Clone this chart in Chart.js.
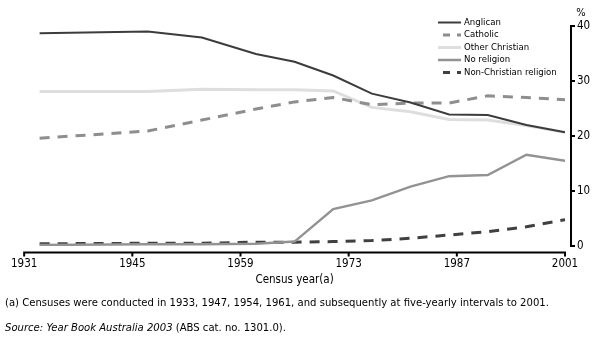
<!DOCTYPE html>
<html lang="en">
<head>
  <meta charset="UTF-8" />
  <title>Religious affiliation – Census years</title>
  <script src="https://cdn.jsdelivr.net/npm/chart.js"></script>
  <style>
    html, body { margin: 0; padding: 0; background: #fff; }
    .wrap { position: relative; width: 612px; height: 352px; overflow: hidden; }
    #chart { position: absolute; left: 0; top: 0; }
    .note {
      position: absolute;
      left: 5px;
      font-family: "DejaVu Sans Condensed", "DejaVu Sans", sans-serif;
      font-size: 11.2px;
      color: #000;
      white-space: nowrap;
    }
  </style>
</head>
<body>
  <div class="wrap">
    <canvas id="chart" width="612" height="352"></canvas>
    <div class="note" style="top:296px">(a) Censuses were conducted in 1933, 1947, 1954, 1961, and subsequently at five-yearly intervals to 2001.</div>
    <div class="note" style="top:321px"><i>Source: Year Book Australia 2003</i> (ABS cat. no. 1301.0).</div>
  </div>

  <script>
    // census years and % of population by affiliation
    const years = [1933, 1947, 1954, 1961, 1966, 1971, 1976, 1981, 1986, 1991, 1996, 2001];
    const anglican = [38.7, 39.0, 37.9, 34.9, 33.5, 31.0, 27.7, 26.1, 23.9, 23.8, 22.0, 20.7];
    const catholic = [19.6, 20.9, 22.9, 24.9, 26.2, 27.0, 25.7, 26.0, 26.0, 27.3, 27.0, 26.6];
    const otherChristian = [28.1, 28.1, 28.5, 28.4, 28.4, 28.2, 25.2, 24.4, 23.0, 22.9, 21.9, 20.7];
    const noReligion = [0.2, 0.3, 0.3, 0.4, 0.8, 6.7, 8.3, 10.8, 12.7, 12.9, 16.6, 15.5];
    const nonChristian = [0.4, 0.5, 0.5, 0.7, 0.7, 0.8, 1.0, 1.4, 2.0, 2.6, 3.5, 4.8];

    const xTicks = [1931, 1945, 1959, 1973, 1987, 2001];
    const yTicks = [0, 10, 20, 30, 40];

    const tickFont = { family: 'DejaVu Sans Condensed, DejaVu Sans, sans-serif', size: 11.5 };
    const legendFont = '9.5px "Liberation Sans Narrow", "DejaVu Sans Condensed", sans-serif';

    const pts = vals => years.map((yr, i) => ({ x: yr, y: vals[i] }));

    const datasets = [
      { label: 'Anglican', data: pts(anglican), borderColor: '#3c3c3c', borderWidth: 2, borderDash: [] },
      { label: 'Catholic', data: pts(catholic), borderColor: '#8e8e8e', borderWidth: 3, borderDash: [10, 8] },
      { label: 'Other Christian', data: pts(otherChristian), borderColor: '#dedede', borderWidth: 3, borderDash: [] },
      { label: 'No religion', data: pts(noReligion), borderColor: '#939393', borderWidth: 2.5, borderDash: [] },
      { label: 'Non-Christian religion', data: pts(nonChristian), borderColor: '#404040', borderWidth: 3, borderDash: [10, 8] }
    ];
    datasets.forEach(d => { d.pointRadius = 0; d.tension = 0; d.fill = false; });

    // axes lines, ticks, % label and legend drawn on top
    const decor = {
      id: 'decor',
      afterDraw(chart) {
        const { ctx, chartArea, scales: { x, y } } = chart;
        ctx.save();
        ctx.strokeStyle = '#000';
        ctx.lineWidth = 2;
        ctx.setLineDash([]);

        const ay = y.getPixelForValue(0) + 6.5;
        ctx.beginPath();
        ctx.moveTo(x.getPixelForValue(1931) - 1, ay);
        ctx.lineTo(x.getPixelForValue(2001) + 1, ay);
        xTicks.forEach(v => {
          const px = x.getPixelForValue(v);
          ctx.moveTo(px, ay);
          ctx.lineTo(px, ay + 4);
        });
        ctx.stroke();

        const ax = chartArea.right + 6;
        ctx.beginPath();
        ctx.moveTo(ax, y.getPixelForValue(40) - 1);
        ctx.lineTo(ax, y.getPixelForValue(0) + 1);
        yTicks.forEach(v => {
          const py = y.getPixelForValue(v);
          ctx.moveTo(ax, py);
          ctx.lineTo(ax + 4, py);
        });
        ctx.stroke();

        ctx.fillStyle = '#000';
        ctx.font = '11px "DejaVu Sans Condensed", "DejaVu Sans", sans-serif';
        ctx.textAlign = 'center';
        ctx.textBaseline = 'middle';
        ctx.fillText('%', 581, 13);

        // legend
        ctx.font = legendFont;
        ctx.textAlign = 'left';
        chart.data.datasets.forEach((d, i) => {
          const ly = 22.5 + i * 12.5;
          ctx.strokeStyle = d.borderColor;
          ctx.lineWidth = d.borderWidth;
          ctx.beginPath();
          if (d.borderDash.length) {
            ctx.setLineDash([7, 7]);
            ctx.moveTo(443, ly);
          } else {
            ctx.setLineDash([]);
            ctx.moveTo(438, ly);
          }
          ctx.lineTo(461, ly);
          ctx.stroke();
          ctx.fillStyle = '#000';
          ctx.fillText(d.label, 464, ly);
        });
        ctx.restore();
      }
    };

    new Chart(document.getElementById('chart'), {
      type: 'line',
      data: { datasets },
      options: {
        responsive: false,
        animation: false,
        layout: { padding: { left: 24, top: 26, right: 0, bottom: 65 } },
        plugins: { legend: { display: false }, tooltip: { enabled: false } },
        scales: {
          x: {
            type: 'linear',
            min: 1931,
            max: 2001,
            grid: { display: false, drawTicks: false },
            border: { display: false },
            afterBuildTicks: s => { s.ticks = xTicks.map(v => ({ value: v })); },
            afterFit: s => { s.height = 41; },
            ticks: { font: tickFont, color: '#000', padding: 11, maxRotation: 0, autoSkip: false, callback: v => String(v) },
            title: { display: true, text: 'Census year(a)', font: tickFont, color: '#000', padding: 0 }
          },
          y: {
            position: 'right',
            min: 0,
            max: 40,
            grid: { display: false, drawTicks: false },
            border: { display: false },
            afterBuildTicks: s => { s.ticks = yTicks.map(v => ({ value: v })); },
            afterFit: s => { s.width = 47; },
            ticks: { font: tickFont, color: '#000', padding: 12, callback: v => String(v) }
          }
        }
      },
      plugins: [decor]
    });
  </script>
</body>
</html>
